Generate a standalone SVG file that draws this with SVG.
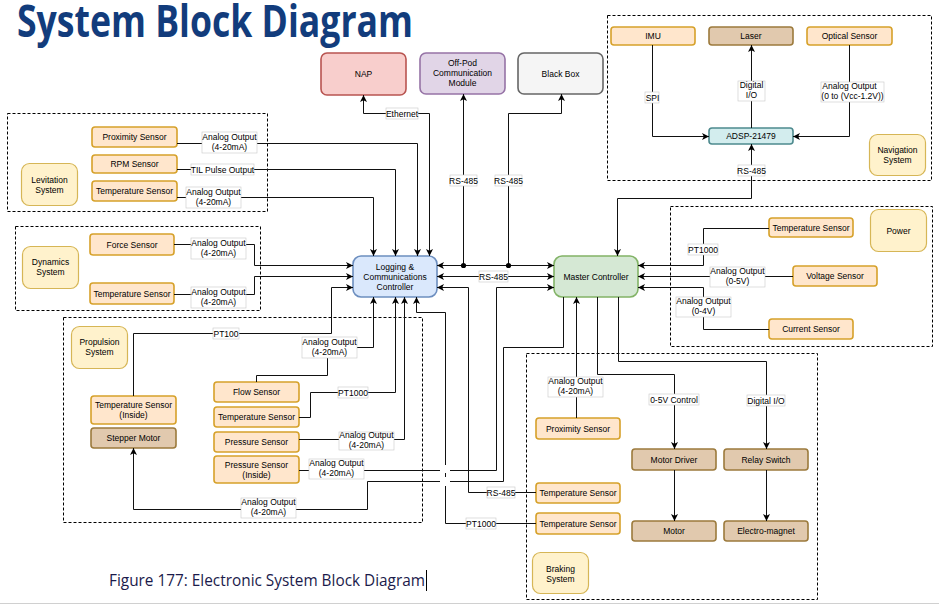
<svg xmlns="http://www.w3.org/2000/svg" width="939" height="605" viewBox="0 0 939 605">
<style>
  text { font-family: "Liberation Sans", Arial, sans-serif; font-size: 8.5px; fill: #000; text-anchor: middle; }
  .title { font-family: "Open Sans", "Noto Sans", sans-serif; font-weight: bold; font-size: 45px; fill: #123C7C; text-anchor: start; }
  .cap { font-family: "Open Sans", "Noto Sans", sans-serif; font-size: 17px; fill: #1B1B4B; text-anchor: start; }
  .grp { fill: none; stroke: #000; stroke-width: 1; stroke-dasharray: 3 2; }
  .sen { fill: #FFE6CC; stroke: #D6A12A; stroke-width: 1.6; }
  .act { fill: #E1C9AE; stroke: #9C7A3C; stroke-width: 1.6; }
  .sys { fill: #FFF2CC; stroke: #D6B656; stroke-width: 1.2; }
  .e { fill: none; stroke: #111; stroke-width: 1; }
  .lb rect { fill: #fff; stroke: #c8c8c8; stroke-width: 0.6; }
</style>
<defs>
  <marker id="ar" markerWidth="7" markerHeight="7" refX="7" refY="3.5" orient="auto-start-reverse" markerUnits="userSpaceOnUse">
    <path d="M0,0 L7,3.5 L0,7 L1.8,3.5 Z" fill="#000"/>
  </marker>
</defs>
<rect x="0" y="0" width="939" height="605" fill="#fff"/>
<text class="title" x="17" y="37" textLength="396" lengthAdjust="spacingAndGlyphs">System Block Diagram</text>

<!-- group containers -->
<g id="levitation-system">
  <rect class="grp" x="7.5" y="113.5" width="260" height="98"/>
  <rect class="sys" x="21.5" y="163.5" width="56" height="42" rx="8"/>
  <text x="49.5" y="183">Levitation</text><text x="49.5" y="193">System</text>
</g>
<g id="lev-proximity"><rect class="sen" x="92" y="127" width="85" height="20" rx="3"/><text x="134.5" y="140">Proximity Sensor</text></g>
<g id="lev-rpm"><rect class="sen" x="92" y="155" width="85" height="18" rx="3"/><text x="134.5" y="167">RPM Sensor</text></g>
<g id="lev-temp"><rect class="sen" x="92" y="181" width="85" height="20" rx="3"/><text x="134.5" y="194">Temperature Sensor</text></g>

<g id="dynamics-system">
  <rect class="grp" x="15.5" y="226.5" width="245" height="84"/>
  <rect class="sys" x="22.5" y="246.5" width="56" height="42" rx="8"/>
  <text x="50.5" y="265">Dynamics</text><text x="50.5" y="275">System</text>
</g>
<g id="dyn-force"><rect class="sen" x="90" y="234" width="84" height="21" rx="3"/><text x="132" y="247.5">Force Sensor</text></g>
<g id="dyn-temp"><rect class="sen" x="90" y="283" width="84" height="21" rx="3"/><text x="132" y="296.5">Temperature Sensor</text></g>

<g id="propulsion-system">
  <rect class="grp" x="63.5" y="317.5" width="359" height="205"/>
  <rect class="sys" x="71.5" y="326.5" width="56" height="42" rx="8"/>
  <text x="99.5" y="345">Propulsion</text><text x="99.5" y="355">System</text>
</g>
<g id="prop-temp-inside"><rect class="sen" x="91" y="396" width="85" height="28" rx="3"/><text x="133.5" y="408">Temperature Sensor</text><text x="133.5" y="418">(Inside)</text></g>
<g id="prop-stepper"><rect class="act" x="91" y="428" width="85" height="20" rx="3"/><text x="133.5" y="441">Stepper Motor</text></g>
<g id="prop-flow"><rect class="sen" x="214" y="382" width="85" height="20" rx="3"/><text x="256.5" y="395">Flow Sensor</text></g>
<g id="prop-temp"><rect class="sen" x="214" y="407" width="85" height="20" rx="3"/><text x="256.5" y="420">Temperature Sensor</text></g>
<g id="prop-pressure"><rect class="sen" x="214" y="432" width="85" height="20" rx="3"/><text x="256.5" y="445">Pressure Sensor</text></g>
<g id="prop-pressure-inside"><rect class="sen" x="214" y="456" width="85" height="27" rx="3"/><text x="256.5" y="468">Pressure Sensor</text><text x="256.5" y="478">(Inside)</text></g>

<g id="braking-system">
  <rect class="grp" x="526.5" y="353.5" width="291" height="246"/>
  <rect class="sys" x="532.5" y="552.5" width="56" height="41" rx="8"/>
  <text x="560.5" y="572">Braking</text><text x="560.5" y="582">System</text>
</g>
<g id="brk-proximity"><rect class="sen" x="536" y="418" width="84" height="21" rx="3"/><text x="578" y="431.5">Proximity Sensor</text></g>
<g id="brk-temp-rs485"><rect class="sen" x="536" y="483" width="84" height="20" rx="3"/><text x="578" y="496">Temperature Sensor</text></g>
<g id="brk-temp-pt1000"><rect class="sen" x="536" y="513" width="84" height="21" rx="3"/><text x="578" y="526.5">Temperature Sensor</text></g>
<g id="brk-motor-driver"><rect class="act" x="632" y="449" width="84" height="21" rx="3"/><text x="674" y="462.5">Motor Driver</text></g>
<g id="brk-relay"><rect class="act" x="724" y="449" width="84" height="21" rx="3"/><text x="766" y="462.5">Relay Switch</text></g>
<g id="brk-motor"><rect class="act" x="632" y="521" width="84" height="20" rx="3"/><text x="674" y="534">Motor</text></g>
<g id="brk-electromagnet"><rect class="act" x="724" y="521" width="84" height="20" rx="3"/><text x="766" y="534">Electro-magnet</text></g>

<g id="power-system">
  <rect class="grp" x="670.5" y="206.5" width="262" height="140"/>
  <rect class="sys" x="870.5" y="209.5" width="56" height="42" rx="8"/>
  <text x="898.5" y="233.5">Power</text>
</g>
<g id="pwr-temp"><rect class="sen" x="769" y="218" width="84" height="19" rx="3"/><text x="811" y="230.5">Temperature Sensor</text></g>
<g id="pwr-voltage"><rect class="sen" x="793" y="266" width="84" height="20" rx="3"/><text x="835" y="279">Voltage Sensor</text></g>
<g id="pwr-current"><rect class="sen" x="769" y="319" width="84" height="20" rx="3"/><text x="811" y="332">Current Sensor</text></g>

<g id="navigation-system">
  <rect class="grp" x="607.5" y="15.5" width="324" height="165"/>
  <rect class="sys" x="869.5" y="134.5" width="56" height="41" rx="8"/>
  <text x="897.5" y="153">Navigation</text><text x="897.5" y="163">System</text>
</g>
<g id="nav-imu"><rect class="sen" x="611" y="27" width="84" height="18" rx="3"/><text x="653" y="39">IMU</text></g>
<g id="nav-laser"><rect class="act" x="709" y="27" width="84" height="18" rx="3"/><text x="751" y="39">Laser</text></g>
<g id="nav-optical"><rect class="sen" x="807" y="27" width="85" height="18" rx="3"/><text x="849.5" y="39">Optical Sensor</text></g>
<g id="nav-adsp"><rect x="709" y="128" width="84" height="16" rx="3" fill="#D3EDEE" stroke="#4E8A8E" stroke-width="1.6"/><text x="751" y="139">ADSP-21479</text></g>

<g id="nap"><rect x="321" y="53" width="85" height="42" rx="6" fill="#F8CECC" stroke="#B85450" stroke-width="1.6"/><text x="363.5" y="77">NAP</text></g>
<g id="offpod"><rect x="420" y="53" width="85" height="41" rx="6" fill="#E1D5E7" stroke="#9673A6" stroke-width="1.6"/><text x="462.5" y="66">Off-Pod</text><text x="462.5" y="76">Communication</text><text x="462.5" y="86">Module</text></g>
<g id="blackbox"><rect x="518" y="53" width="85" height="41" rx="6" fill="#F5F5F5" stroke="#666" stroke-width="1.6"/><text x="560.5" y="77">Black Box</text></g>
<g id="lcc"><rect x="353" y="256" width="84" height="41" rx="8" fill="#DAE8FC" stroke="#6C8EBF" stroke-width="1.6"/><text x="395" y="270">Logging &amp;</text><text x="395" y="280">Communications</text><text x="395" y="290">Controller</text></g>
<g id="master"><rect x="554" y="256" width="84" height="41" rx="8" fill="#D5E8D4" stroke="#82B366" stroke-width="1.6"/><text x="596" y="280">Master Controller</text></g>

<!-- connectors -->
<g id="connectors">
  <path class="e" d="M429.5,256 V113.5 H363.5 V95" marker-start="url(#ar)" marker-end="url(#ar)"/>
  <path class="e" d="M463.5,266 V94" marker-end="url(#ar)"/>
  <path class="e" d="M508.5,266 V113.5 H561.5 V94" marker-end="url(#ar)"/>
  <path class="e" d="M177,143.5 H417.5 V256" marker-end="url(#ar)"/>
  <path class="e" d="M177,169.5 H395.5 V256" marker-end="url(#ar)"/>
  <path class="e" d="M177,197.5 H373.5 V256" marker-end="url(#ar)"/>
  <path class="e" d="M174,244.5 H254.5 V265.5 H353" marker-end="url(#ar)"/>
  <path class="e" d="M174,294.5 H254.5 V276.5 H353" marker-end="url(#ar)"/>
  <path class="e" d="M133.5,396 V333.5 H331.5 V287.5 H353" marker-end="url(#ar)"/>
  <path class="e" d="M256.5,382 V375.5 H327.5 V347.5 H373.5 V297" marker-end="url(#ar)"/>
  <path class="e" d="M299,417.5 H310.5 V392.5 H395.5 V297" marker-end="url(#ar)"/>
  <path class="e" d="M299,439.5 H404.5 V297" marker-end="url(#ar)"/>
  <path class="e" d="M299,470.5 H440 M450,470.5 H496.5 V287.5 H554" marker-end="url(#ar)"/>
  <path class="e" d="M563.5,297 V347.5 H503.5 V481.5 H450 M440,481.5 H367.5 V509.5 H133.5 V448" marker-end="url(#ar)"/>
  <path class="e" d="M416.5,297 V312.5 H445.5 V465 M445.5,473 V477 M445.5,486 V523.5 H536" marker-start="url(#ar)"/>
  <path class="e" d="M437,287.5 H468.5 V492.5 H536" marker-start="url(#ar)"/>
  <path class="e" d="M437,265.5 H554" marker-start="url(#ar)" marker-end="url(#ar)"/>
  <path class="e" d="M437,276.5 H554" marker-start="url(#ar)" marker-end="url(#ar)"/>
  <circle cx="463.5" cy="265.5" r="2.6" fill="#000"/>
  <circle cx="508.5" cy="265.5" r="2.6" fill="#000"/>
  <path class="e" d="M769,228.5 H703.5 V265.5 H638" marker-end="url(#ar)"/>
  <path class="e" d="M793,276.5 H638" marker-end="url(#ar)"/>
  <path class="e" d="M769,329.5 H703.5 V287.5 H638" marker-end="url(#ar)"/>
  <path class="e" d="M751.5,144 V198.5 H617.5 V256" marker-start="url(#ar)" marker-end="url(#ar)"/>
  <path class="e" d="M652.5,45 V136.5 H709" marker-end="url(#ar)"/>
  <path class="e" d="M751.5,128 V45" marker-end="url(#ar)"/>
  <path class="e" d="M849.5,45 V136.5 H793" marker-end="url(#ar)"/>
  <path class="e" d="M576.5,418 V297" marker-end="url(#ar)"/>
  <path class="e" d="M597.5,297 V374.5 H674.5 V449" marker-end="url(#ar)"/>
  <path class="e" d="M618.5,297 V361.5 H766.5 V449" marker-end="url(#ar)"/>
  <path class="e" d="M674.5,470 V521" marker-end="url(#ar)"/>
  <path class="e" d="M766.5,470 V521" marker-end="url(#ar)"/>

  <!-- labels -->
  <g class="lb"><rect x="386" y="108" width="32" height="11"/><text x="402" y="116.5">Ethernet</text></g>
  <g class="lb"><rect x="450" y="175" width="27" height="11"/><text x="463.5" y="183.5">RS-485</text></g>
  <g class="lb"><rect x="495" y="175" width="27" height="11"/><text x="508.5" y="183.5">RS-485</text></g>
  <g class="lb"><rect x="202" y="132" width="55" height="21"/><text x="229.5" y="140">Analog Output</text><text x="229.5" y="150">(4-20mA)</text></g>
  <g class="lb"><rect x="191" y="164" width="63" height="11"/><text x="222.5" y="172.5">TIL Pulse Output</text></g>
  <g class="lb"><rect x="186" y="187" width="55" height="21"/><text x="213.5" y="195">Analog Output</text><text x="213.5" y="205">(4-20mA)</text></g>
  <g class="lb"><rect x="191" y="238" width="55" height="21"/><text x="218.5" y="246">Analog Output</text><text x="218.5" y="256">(4-20mA)</text></g>
  <g class="lb"><rect x="191" y="287" width="55" height="21"/><text x="218.5" y="295">Analog Output</text><text x="218.5" y="305">(4-20mA)</text></g>
  <g class="lb"><rect x="213" y="328" width="26" height="11"/><text x="226" y="336.5">PT100</text></g>
  <g class="lb"><rect x="302" y="337" width="55" height="21"/><text x="329.5" y="345">Analog Output</text><text x="329.5" y="355">(4-20mA)</text></g>
  <g class="lb"><rect x="338" y="387" width="30" height="11"/><text x="353" y="395.5">PT1000</text></g>
  <g class="lb"><rect x="339" y="432" width="55" height="18"/><text x="366.5" y="438">Analog Output</text><text x="366.5" y="448">(4-20mA)</text></g>
  <g class="lb"><rect x="309" y="459" width="55" height="20"/><text x="336.5" y="466">Analog Output</text><text x="336.5" y="476">(4-20mA)</text></g>
  <g class="lb"><rect x="241" y="498" width="55" height="20"/><text x="268.5" y="505">Analog Output</text><text x="268.5" y="515">(4-20mA)</text></g>
  <g class="lb"><rect x="466" y="518" width="30" height="11"/><text x="481" y="526.5">PT1000</text></g>
  <g class="lb"><rect x="487" y="487" width="28" height="11"/><text x="501" y="495.5">RS-485</text></g>
  <g class="lb"><rect x="479" y="271" width="29" height="11"/><text x="493.5" y="279.5">RS-485</text></g>
  <g class="lb"><rect x="688" y="244" width="30" height="11"/><text x="703" y="252.5">PT1000</text></g>
  <g class="lb"><rect x="710" y="267" width="55" height="20"/><text x="737.5" y="274">Analog Output</text><text x="737.5" y="284">(0-5V)</text></g>
  <g class="lb"><rect x="676" y="297" width="55" height="20"/><text x="703.5" y="304">Analog Output</text><text x="703.5" y="314">(0-4V)</text></g>
  <g class="lb"><rect x="738" y="165" width="27" height="11"/><text x="751.5" y="173.5">RS-485</text></g>
  <g class="lb"><rect x="645" y="92" width="14" height="11"/><text x="652.5" y="100.5">SPI</text></g>
  <g class="lb"><rect x="738" y="81" width="27" height="20"/><text x="751.5" y="88">Digital</text><text x="751.5" y="98">I/O</text></g>
  <g class="lb"><rect x="821" y="82" width="63" height="20"/><text x="849.5" y="89">Analog Output</text><text x="852.5" y="99">(0 to (Vcc-1.2V))</text></g>
  <g class="lb"><rect x="548" y="377" width="55" height="20"/><text x="575.5" y="384">Analog Output</text><text x="575.5" y="394">(4-20mA)</text></g>
  <g class="lb"><rect x="649" y="394" width="50" height="11"/><text x="674" y="402.5">0-5V Control</text></g>
  <g class="lb"><rect x="747" y="395" width="38" height="11"/><text x="766" y="403.5">Digital I/O</text></g>
</g>

<text class="cap" x="109" y="586" textLength="316" lengthAdjust="spacingAndGlyphs">Figure 177: Electronic System Block Diagram</text>
<line x1="426.5" y1="570" x2="426.5" y2="591" stroke="#000" stroke-width="1"/>
<line x1="0" y1="603.5" x2="939" y2="603.5" stroke="#d0d0d0" stroke-width="1"/>
</svg>
